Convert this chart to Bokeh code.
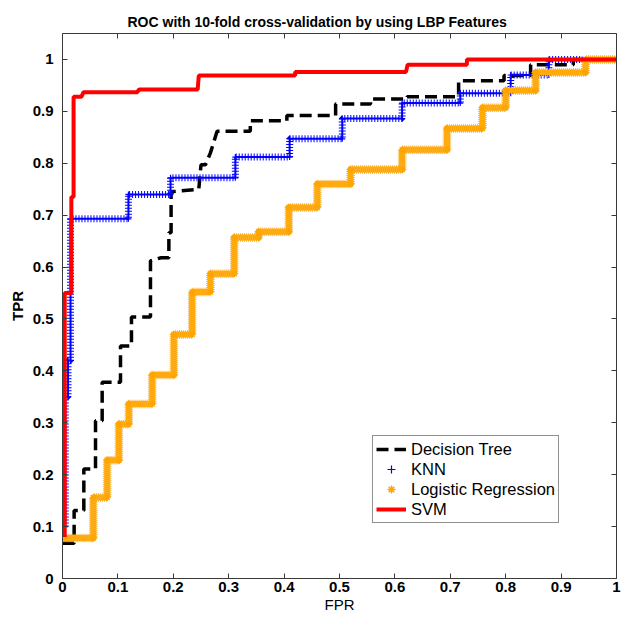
from bokeh.plotting import figure
from bokeh.models import Range1d, FixedTicker, LinearAxis, Legend, LegendItem
from bokeh.embed import file_html
from bokeh.resources import INLINE

# ---------------- data ----------------
title_text = "ROC with 10-fold cross-validation by using LBP Features"
x_label = "FPR"
y_label = "TPR"
tick_values = [0, 0.1, 0.2, 0.3, 0.4, 0.5, 0.6, 0.7, 0.8, 0.9, 1]
tick_labels = ["0", "0.1", "0.2", "0.3", "0.4", "0.5", "0.6", "0.7", "0.8", "0.9", "1"]

dt_fpr = [0.0, 0.021, 0.021, 0.0385, 0.0385, 0.0596, 0.0596, 0.0716, 0.0716, 0.1047, 0.1047,
          0.1245, 0.1245, 0.1588, 0.1588, 0.178, 0.192, 0.192, 0.196, 0.196, 0.246, 0.25, 0.258,
          0.267, 0.279, 0.339, 0.339, 0.405, 0.405, 0.493, 0.493, 0.556, 0.556, 0.622, 0.622,
          0.715, 0.715, 0.797, 0.797, 0.845, 0.845, 0.922, 0.922, 1.0]
dt_tpr = [0.068, 0.068, 0.131, 0.131, 0.211, 0.211, 0.304, 0.304, 0.378, 0.378, 0.448,
          0.448, 0.504, 0.504, 0.612, 0.618, 0.618, 0.666, 0.666, 0.745, 0.75, 0.797, 0.797,
          0.82, 0.8615, 0.8615, 0.882, 0.882, 0.892, 0.892, 0.914, 0.914, 0.924, 0.924, 0.928,
          0.928, 0.959, 0.959, 0.969, 0.969, 0.99, 0.99, 1.0, 1.0]

knn_fpr = [0.005, 0.005, 0.010, 0.010, 0.0145, 0.0145, 0.119, 0.119, 0.195, 0.195, 0.312, 0.312,
           0.41, 0.41, 0.505, 0.505, 0.613, 0.613, 0.718, 0.718, 0.809, 0.809, 0.878, 0.878, 0.938]
knn_tpr = [0.10, 0.35, 0.35, 0.42, 0.42, 0.693, 0.693, 0.740, 0.740, 0.772, 0.772, 0.812,
           0.812, 0.847, 0.847, 0.886, 0.886, 0.916, 0.916, 0.935, 0.935, 0.970, 0.970, 1.0, 1.0]

lr_fpr = [0.0, 0.0556, 0.0556, 0.0806, 0.0806, 0.1017, 0.1017, 0.1197, 0.1197, 0.162, 0.162,
          0.201, 0.201, 0.234, 0.234, 0.267, 0.267, 0.31, 0.31, 0.354, 0.354, 0.4085, 0.4085,
          0.46, 0.46, 0.52, 0.52, 0.613, 0.613, 0.694, 0.694, 0.758, 0.758, 0.80, 0.80, 0.854,
          0.854, 0.944, 0.944, 1.0]
lr_tpr = [0.078, 0.078, 0.156, 0.156, 0.228, 0.228, 0.297, 0.297, 0.336, 0.336, 0.392,
          0.392, 0.47, 0.47, 0.552, 0.552, 0.587, 0.587, 0.657, 0.657, 0.668, 0.668, 0.715,
          0.715, 0.76, 0.76, 0.788, 0.788, 0.826, 0.826, 0.867, 0.867, 0.907, 0.907, 0.94, 0.94,
          0.975, 0.975, 1.0, 1.0]

svm_fpr = [0.004, 0.004, 0.016, 0.016, 0.020, 0.020, 0.034, 0.038, 0.135, 0.138, 0.244, 0.246,
           0.42, 0.42, 0.62, 0.623, 0.73, 0.73, 1.0]
svm_tpr = [0.08, 0.55, 0.55, 0.735, 0.735, 0.928, 0.928, 0.937, 0.937, 0.942, 0.942, 0.969,
           0.969, 0.976, 0.976, 0.99, 0.99, 1.0, 1.0]

series_names = ["Decision Tree", "KNN", "Logistic Regression", "SVM"]

# ---------------- figure ----------------
FONT = "Liberation Sans"
p = figure(width=628, height=615, x_range=Range1d(0, 1), y_range=Range1d(0, 1.05),
           output_backend="svg", toolbar_location=None,
           min_border_left=62, min_border_right=12, min_border_top=33, min_border_bottom=30,
           title=title_text)
p.grid.visible = False
p.outline_line_color = None
p.background_fill_color = "white"
p.border_fill_color = "white"

p.title.align = "left"
p.title.offset = 65
p.title.text_font = FONT
p.title.text_font_size = "14px"
p.title.text_font_style = "bold"
p.title.text_color = "black"
p.title.standoff = 8

AX_COLOR = "#3a3a3a"

def style_axis(ax, show_labels=True):
    ax.ticker = FixedTicker(ticks=tick_values)
    ax.axis_line_color = AX_COLOR
    ax.axis_line_width = 1
    ax.major_tick_line_color = AX_COLOR
    ax.major_tick_in = 5
    ax.major_tick_out = 0
    ax.minor_tick_line_color = None
    if show_labels:
        ax.major_label_overrides = {v: s for v, s in zip(tick_values, tick_labels)}
        ax.major_label_text_font = FONT
        ax.major_label_text_font_size = "15px"
        ax.major_label_text_font_style = "bold"
        ax.major_label_text_color = "black"
        ax.major_label_text_line_height = 1.0
    else:
        ax.major_label_overrides = {v: "" for v in tick_values}
        ax.major_label_text_font_size = "1px"
        ax.major_label_standoff = 0

style_axis(p.xaxis[0])
style_axis(p.yaxis[0])
p.xaxis[0].major_label_standoff = 3
p.yaxis[0].major_label_standoff = 9
p.xaxis[0].axis_label = x_label
p.xaxis[0].axis_label_text_font = FONT
p.xaxis[0].axis_label_text_font_size = "15px"
p.xaxis[0].axis_label_text_font_style = "normal"
p.xaxis[0].axis_label_text_color = "black"
p.xaxis[0].axis_label_standoff = 1
p.xaxis[0].axis_label_text_line_height = 1.0
p.yaxis[0].axis_label = y_label
p.yaxis[0].axis_label_text_font = FONT
p.yaxis[0].axis_label_text_font_size = "15px"
p.yaxis[0].axis_label_text_font_style = "bold"
p.yaxis[0].axis_label_text_color = "black"
p.yaxis[0].axis_label_standoff = 4

top_ax = LinearAxis()
style_axis(top_ax, show_labels=False)
p.add_layout(top_ax, "above")
right_ax = LinearAxis()
style_axis(right_ax, show_labels=False)
p.add_layout(right_ax, "right")

# ---------------- curves ----------------
dt = p.line(dt_fpr, dt_tpr, line_color="black", line_width=3.5, line_dash="12 6")

knn_core = p.line(knn_fpr, knn_tpr, line_color="#0000ff", line_width=2)
knn_band = p.line(knn_fpr, knn_tpr, line_color="#0000ff", line_width=7, line_dash="1 2")
knn_pts = p.scatter(knn_fpr, knn_tpr, marker="cross", size=6,
                    line_color="#0000ff", line_width=1.2)

lr_core = p.line(lr_fpr, lr_tpr, line_color="#ffa500", line_width=6)
lr_band = p.line(lr_fpr, lr_tpr, line_color="#ffb020", line_width=8.5, line_dash="1 1")
lr_pts = p.scatter(lr_fpr, lr_tpr, marker="asterisk", size=7,
                   line_color="#ffa500", line_width=1.5)

svm = p.line(svm_fpr, svm_tpr, line_color="#ff0000", line_width=4)

legend = Legend(items=[
    LegendItem(label=series_names[0], renderers=[dt]),
    LegendItem(label=series_names[1], renderers=[knn_pts]),
    LegendItem(label=series_names[2], renderers=[lr_pts]),
    LegendItem(label=series_names[3], renderers=[svm]),
], location=(310, 55))
legend.border_line_color = "#222222"
legend.border_line_width = 1
legend.background_fill_color = "white"
legend.background_fill_alpha = 1.0
legend.label_text_font = FONT
legend.label_text_font_size = "16.5px"
legend.label_text_color = "black"
legend.glyph_width = 30
legend.glyph_height = 20
legend.label_height = 20
legend.label_standoff = 5
legend.padding = 3
legend.spacing = 0
legend.margin = 0
p.add_layout(legend)

open("out.html", "w").write(file_html(p, INLINE))
